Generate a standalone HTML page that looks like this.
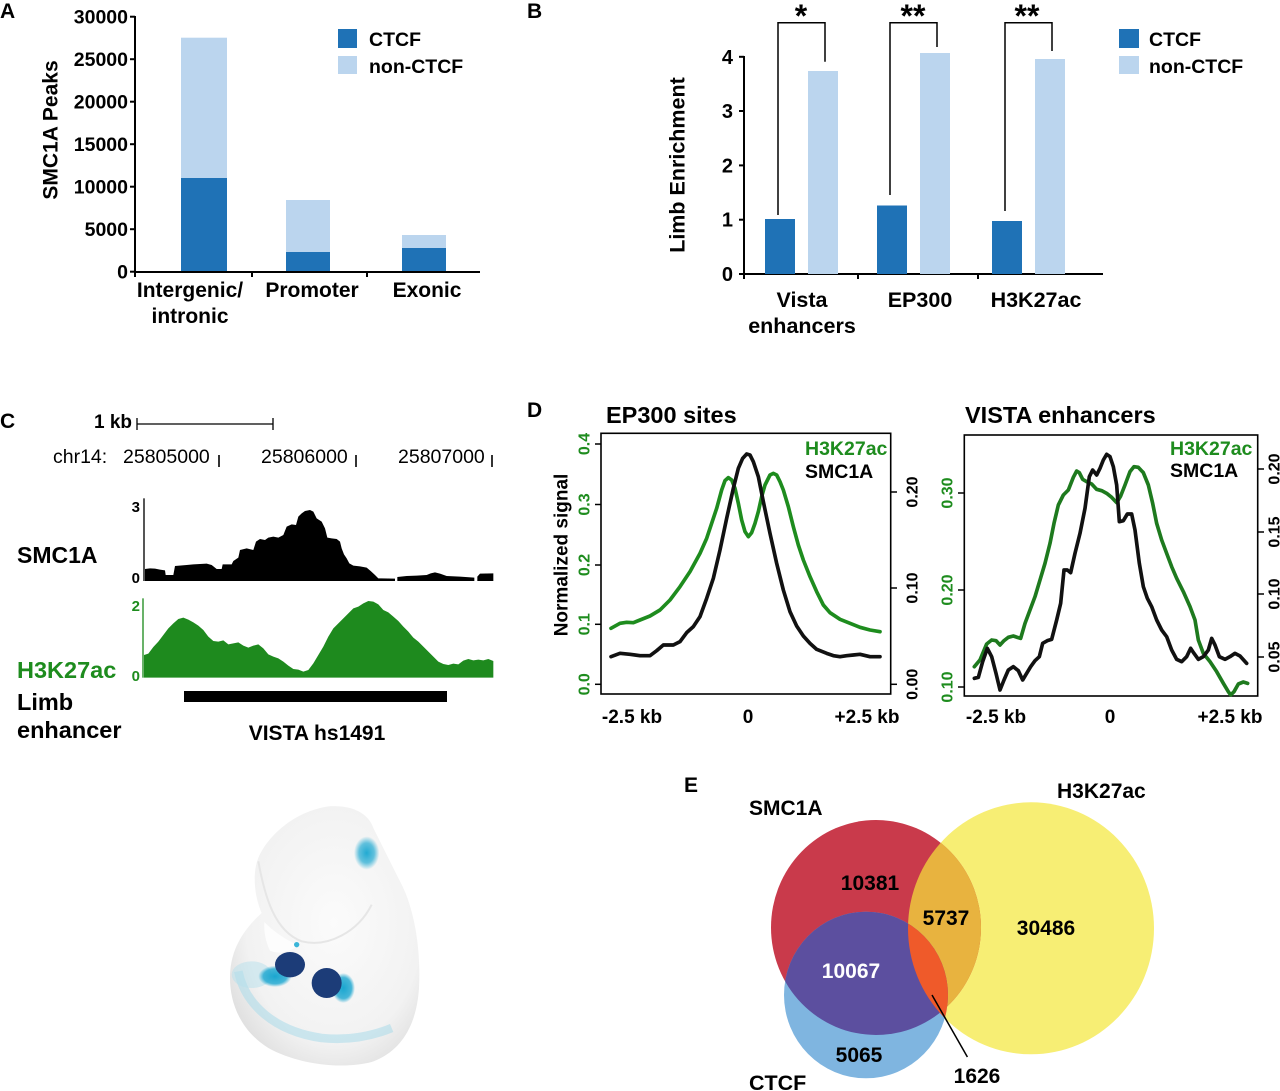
<!DOCTYPE html>
<html><head><meta charset="utf-8">
<style>
html,body{margin:0;padding:0;background:#fff;}
svg{display:block;}
text{font-family:"Liberation Sans",Arial,sans-serif;font-weight:bold;fill:#000;}
.r{font-weight:normal;}
.g{fill:#1e8c1e;}
</style></head>
<body>
<svg width="1280" height="1091" viewBox="0 0 1280 1091" xmlns="http://www.w3.org/2000/svg">
<defs>
  <clipPath id="cR"><ellipse cx="876" cy="927.5" rx="105" ry="107.5"/></clipPath>
  <clipPath id="cY"><ellipse cx="1031" cy="928.3" rx="123" ry="126"/></clipPath>
  <radialGradient id="emb" cx="0.55" cy="0.45" r="0.62">
    <stop offset="0" stop-color="#fbfbfb"/>
    <stop offset="0.75" stop-color="#f2f2f2"/>
    <stop offset="1" stop-color="#e0e0e0"/>
  </radialGradient>
  <radialGradient id="cy1" cx="0.5" cy="0.5" r="0.5">
    <stop offset="0" stop-color="#22aad2"/>
    <stop offset="0.6" stop-color="#22aad2" stop-opacity="0.7"/>
    <stop offset="1" stop-color="#22aad2" stop-opacity="0"/>
  </radialGradient>
  <radialGradient id="cy3" cx="0.5" cy="0.5" r="0.5">
    <stop offset="0" stop-color="#1aa6d0"/>
    <stop offset="0.7" stop-color="#1aa6d0" stop-opacity="0.8"/>
    <stop offset="1" stop-color="#1aa6d0" stop-opacity="0"/>
  </radialGradient>
</defs>

<!-- ================= PANEL A ================= -->
<text x="0" y="18" font-size="21">A</text>
<g stroke="#000" stroke-width="2" fill="none">
  <line x1="135" y1="16" x2="135" y2="273"/>
  <line x1="134" y1="272" x2="480" y2="272"/>
  <line x1="130" y1="16.7" x2="135" y2="16.7"/>
  <line x1="130" y1="59.2" x2="135" y2="59.2"/>
  <line x1="130" y1="101.7" x2="135" y2="101.7"/>
  <line x1="130" y1="144.2" x2="135" y2="144.2"/>
  <line x1="130" y1="186.7" x2="135" y2="186.7"/>
  <line x1="130" y1="229.2" x2="135" y2="229.2"/>
  <line x1="130" y1="271.7" x2="135" y2="271.7"/>
  <line x1="135" y1="272" x2="135" y2="277"/>
  <line x1="252" y1="272" x2="252" y2="277"/>
  <line x1="367" y1="272" x2="367" y2="277"/>
</g>
<g font-size="19.5" text-anchor="end">
  <text x="128" y="23.5">30000</text>
  <text x="128" y="66">25000</text>
  <text x="128" y="108.5">20000</text>
  <text x="128" y="151">15000</text>
  <text x="128" y="193.5">10000</text>
  <text x="128" y="236">5000</text>
  <text x="128" y="278.5">0</text>
</g>
<text transform="translate(50,130) rotate(-90)" text-anchor="middle" dy=".35em" font-size="21">SMC1A Peaks</text>
<rect x="181" y="37.7" width="46" height="140.3" fill="#bbd5ee"/>
<rect x="181" y="178" width="46" height="93" fill="#1f72b6"/>
<rect x="286" y="200" width="44" height="52" fill="#bbd5ee"/>
<rect x="286" y="252" width="44" height="19" fill="#1f72b6"/>
<rect x="402" y="235" width="44" height="13" fill="#bbd5ee"/>
<rect x="402" y="248" width="44" height="23" fill="#1f72b6"/>
<rect x="338" y="29" width="19" height="19" fill="#1f72b6"/>
<rect x="338" y="56" width="19" height="18" fill="#bbd5ee"/>
<text x="369" y="46" font-size="19.5">CTCF</text>
<text x="369" y="73" font-size="19.5">non-CTCF</text>
<g font-size="21" text-anchor="middle">
  <text x="190" y="297">Intergenic/</text>
  <text x="190" y="323">intronic</text>
  <text x="312" y="297">Promoter</text>
  <text x="427" y="297">Exonic</text>
</g>

<!-- ================= PANEL B ================= -->
<text x="527" y="18" font-size="21">B</text>
<g stroke="#000" stroke-width="2" fill="none">
  <line x1="744" y1="56" x2="744" y2="275"/>
  <line x1="743" y1="274" x2="1103" y2="274"/>
  <line x1="739" y1="56.8" x2="744" y2="56.8"/>
  <line x1="739" y1="111" x2="744" y2="111"/>
  <line x1="739" y1="165.4" x2="744" y2="165.4"/>
  <line x1="739" y1="219.7" x2="744" y2="219.7"/>
  <line x1="739" y1="274" x2="744" y2="274"/>
  <line x1="858" y1="274" x2="858" y2="279"/>
  <line x1="978" y1="274" x2="978" y2="279"/>
  <line x1="744" y1="274" x2="744" y2="279"/>
</g>
<g font-size="20" text-anchor="end">
  <text x="733" y="63.8">4</text>
  <text x="733" y="118">3</text>
  <text x="733" y="172.4">2</text>
  <text x="733" y="226.7">1</text>
  <text x="733" y="281">0</text>
</g>
<text transform="translate(677,165) rotate(-90)" text-anchor="middle" dy=".35em" font-size="21.5">Limb Enrichment</text>
<rect x="765" y="219" width="30" height="55" fill="#1f72b6"/>
<rect x="808" y="71" width="30" height="203" fill="#bbd5ee"/>
<rect x="877" y="205.5" width="30" height="68.5" fill="#1f72b6"/>
<rect x="920" y="53" width="30" height="221" fill="#bbd5ee"/>
<rect x="992" y="221" width="30" height="53" fill="#1f72b6"/>
<rect x="1035" y="59" width="30" height="215" fill="#bbd5ee"/>
<g stroke="#000" stroke-width="1.5" fill="none">
  <path d="M778,215 V22.7 H825 V61.7"/>
  <path d="M890,195 V22.7 H937 V47"/>
  <path d="M1005,211 V22.7 H1052 V51"/>
</g>
<g font-size="32" text-anchor="middle">
  <text x="801" y="27">*</text>
  <text x="913" y="27">**</text>
  <text x="1027" y="27">**</text>
</g>
<rect x="1119" y="29" width="20" height="19" fill="#1f72b6"/>
<rect x="1119" y="56" width="20" height="18" fill="#bbd5ee"/>
<text x="1149" y="46" font-size="19.5">CTCF</text>
<text x="1149" y="73" font-size="19.5">non-CTCF</text>
<g font-size="21.5" text-anchor="middle">
  <text x="802" y="307">Vista</text>
  <text x="802" y="333">enhancers</text>
  <text x="920" y="307">EP300</text>
  <text x="1036" y="307">H3K27ac</text>
</g>

<!-- ================= PANEL C ================= -->
<text x="0" y="428" font-size="21">C</text>
<text x="132" y="428" font-size="19" text-anchor="end">1 kb</text>
<g stroke="#000" stroke-width="1.3">
  <line x1="137" y1="424" x2="273" y2="424"/>
  <line x1="137" y1="418" x2="137" y2="430"/>
  <line x1="273" y1="418" x2="273" y2="430"/>
  <line x1="219" y1="455" x2="219" y2="467" stroke-width="1.6"/>
  <line x1="356" y1="455" x2="356" y2="467" stroke-width="1.6"/>
  <line x1="492" y1="455" x2="492" y2="467" stroke-width="1.6"/>
</g>
<g font-size="19.5">
  <text class="r" x="53" y="463">chr14:</text>
  <text class="r" x="123" y="463">25805000</text>
  <text class="r" x="261" y="463">25806000</text>
  <text class="r" x="398" y="463">25807000</text>
</g>
<g transform="translate(140,495) scale(0.333333)">
  <line x1="12" y1="10" x2="12" y2="258" stroke="#000" stroke-width="4"/>
  <path fill="#000" d="M15,258 L15,222 L30,220 L45,221 L60,224 L75,226 L77,240 L100,240 L105,213 L140,210 L160,208 L200,206 L215,210 L230,222 L245,222 L248,208 L275,208 L280,198 L295,188 L300,165 L320,160 L340,165 L348,140 L360,132 L375,135 L385,128 L400,125 L415,128 L430,120 L440,95 L455,88 L468,90 L475,65 L485,55 L495,48 L510,45 L520,50 L530,70 L545,80 L555,100 L562,128 L575,130 L590,132 L600,140 L605,160 L612,178 L620,190 L628,205 L640,212 L660,214 L680,218 L692,228 L705,240 L715,250 L765,251 L765,258 Z M772,258 L772,246 L800,243 L830,242 L860,240 L872,235 L885,232 L900,236 L920,243 L960,245 L1003,248 L1003,258 Z M1012,258 L1012,245 L1020,236 L1060,235 L1060,258 Z"/>
  <line x1="9" y1="310" x2="9" y2="548" stroke="#1e8c1e" stroke-width="4"/>
  <path fill="#1e8a1e" d="M12,548 L12,480 L25,476 L40,456 L55,440 L70,420 L85,400 L100,385 L115,372 L130,368 L145,374 L160,382 L175,392 L190,405 L205,425 L220,438 L235,440 L250,436 L265,448 L280,445 L295,442 L310,452 L325,458 L340,452 L355,448 L370,460 L385,478 L400,485 L415,490 L430,500 L445,512 L460,522 L475,524 L490,530 L505,525 L520,505 L535,480 L550,455 L565,425 L580,400 L595,385 L610,370 L625,355 L640,340 L655,335 L670,325 L685,318 L700,320 L715,328 L730,345 L745,352 L760,365 L775,378 L790,395 L805,410 L820,428 L835,440 L850,455 L865,470 L880,485 L895,500 L910,507 L925,510 L940,506 L955,508 L970,497 L985,492 L1000,496 L1015,494 L1030,496 L1045,492 L1060,498 L1060,548 Z"/>
</g>
<g font-size="15" text-anchor="end">
  <text x="140" y="512">3</text>
  <text x="140" y="583">0</text>
  <text x="140" y="611" class="g">2</text>
  <text x="140" y="681" class="g">0</text>
</g>
<text x="17" y="563" font-size="23">SMC1A</text>
<text x="17" y="678" font-size="23.5" class="g">H3K27ac</text>
<text x="17" y="710" font-size="23.5">Limb</text>
<text x="17" y="738" font-size="23.5">enhancer</text>
<rect x="184" y="691" width="263" height="11" fill="#000"/>
<text x="317" y="740" font-size="21" text-anchor="middle">VISTA hs1491</text>

<!-- ================= EMBRYO ================= -->
<g transform="translate(215,798) scale(0.333333)">
  <path fill="url(#emb)" d="M140,345 C120,300 110,230 130,180 C160,110 240,40 340,25 C410,20 460,45 475,90 C500,140 530,200 560,260 C600,340 618,460 612,570 C605,680 560,760 470,792 C380,815 250,800 160,750 C80,700 45,620 45,540 C45,460 80,400 140,345 Z"/>
  <path fill="none" stroke="#e6e6e6" stroke-width="6" d="M130,190 C150,300 180,400 260,430 C340,450 430,400 470,320"/>
  <path fill="#fdfdfd" d="M148,372 C170,395 205,422 250,442 C225,462 190,470 165,458 C152,432 146,400 148,372 Z"/>
  <path d="M70,520 C90,620 180,700 320,720 C400,728 470,715 530,690" stroke="#a9dbe9" stroke-width="26" fill="none" opacity="0.55"/>
  <ellipse cx="110" cy="530" rx="60" ry="40" fill="#b5e0ec" opacity="0.5"/>
  <ellipse cx="455" cy="165" rx="38" ry="50" fill="url(#cy1)"/>
  <ellipse cx="180" cy="535" rx="50" ry="32" fill="url(#cy3)"/>
  <ellipse cx="385" cy="570" rx="35" ry="45" fill="url(#cy3)"/>
  <ellipse cx="225" cy="500" rx="45" ry="38" fill="#1c3c78"/>
  <ellipse cx="335" cy="555" rx="45" ry="45" fill="#1c3c78"/>
  <circle cx="245" cy="440" r="8" fill="#3ab5d8"/>
</g>

<!-- ================= PANEL D left ================= -->
<text x="527" y="417" font-size="21">D</text>
<text x="606" y="423" font-size="23.5">EP300 sites</text>
<rect x="601" y="433.3" width="289.7" height="260.7" fill="none" stroke="#000" stroke-width="1.6"/>
<g stroke="#000" stroke-width="1.5">
  <line x1="595" y1="444" x2="601" y2="444"/>
  <line x1="595" y1="504.5" x2="601" y2="504.5"/>
  <line x1="595" y1="565" x2="601" y2="565"/>
  <line x1="595" y1="624.3" x2="601" y2="624.3"/>
  <line x1="595" y1="684.3" x2="601" y2="684.3"/>
  <line x1="891" y1="492" x2="897" y2="492"/>
  <line x1="891" y1="588" x2="897" y2="588"/>
  <line x1="891" y1="684.3" x2="897" y2="684.3"/>
</g>
<g font-size="16" text-anchor="middle">
  <text class="g" transform="translate(584,444) rotate(-90)" dy=".35em">0.4</text>
  <text class="g" transform="translate(584,504.5) rotate(-90)" dy=".35em">0.3</text>
  <text class="g" transform="translate(584,565) rotate(-90)" dy=".35em">0.2</text>
  <text class="g" transform="translate(584,624.3) rotate(-90)" dy=".35em">0.1</text>
  <text class="g" transform="translate(584,684.3) rotate(-90)" dy=".35em">0.0</text>
  <text transform="translate(912,492) rotate(-90)" dy=".35em">0.20</text>
  <text transform="translate(912,588) rotate(-90)" dy=".35em">0.10</text>
  <text transform="translate(912,684.3) rotate(-90)" dy=".35em">0.00</text>
</g>
<text transform="translate(561,555) rotate(-90)" text-anchor="middle" dy=".35em" font-size="19">Normalized signal</text>
<g font-size="19" text-anchor="middle">
  <text x="632" y="723">-2.5 kb</text>
  <text x="748" y="723">0</text>
  <text x="867" y="723">+2.5 kb</text>
</g>
<text x="805" y="455" font-size="19.5" class="g">H3K27ac</text>
<text x="805" y="478" font-size="19.5">SMC1A</text>
<g transform="translate(540,390) scale(0.333333)" fill="none" stroke-width="11" stroke-linejoin="round" stroke-linecap="round">
  <polyline stroke="#1e8c1e" points="213,715 240,700 260,697 280,698 300,690 330,678 360,660 390,630 420,590 450,545 480,490 500,445 515,400 530,355 545,300 555,272 565,263 575,270 585,295 595,340 605,390 615,425 625,440 635,428 645,400 655,365 665,320 675,285 690,255 700,250 710,255 720,275 730,300 745,350 760,410 775,465 790,510 810,560 830,605 850,645 870,668 900,688 930,700 960,712 990,720 1020,725"/>
  <polyline stroke="#111" points="213,800 240,790 270,793 300,797 330,797 350,782 370,765 400,765 420,755 440,728 460,710 480,680 500,625 520,565 540,480 560,385 580,295 595,235 608,205 620,192 630,195 640,215 655,260 670,335 690,430 710,520 730,600 750,665 770,708 790,738 810,760 830,778 860,790 880,797 900,800 920,797 940,795 960,793 990,800 1020,800"/>
</g>

<!-- ================= PANEL D right ================= -->
<text x="965" y="423" font-size="23.5">VISTA enhancers</text>
<rect x="964.3" y="435" width="293.4" height="261" fill="none" stroke="#000" stroke-width="1.6"/>
<g stroke="#000" stroke-width="1.5">
  <line x1="958" y1="493" x2="964" y2="493"/>
  <line x1="958" y1="590" x2="964" y2="590"/>
  <line x1="958" y1="687" x2="964" y2="687"/>
  <line x1="1258" y1="469" x2="1264" y2="469"/>
  <line x1="1258" y1="532" x2="1264" y2="532"/>
  <line x1="1258" y1="594" x2="1264" y2="594"/>
  <line x1="1258" y1="657" x2="1264" y2="657"/>
</g>
<g font-size="16" text-anchor="middle">
  <text class="g" transform="translate(947,493) rotate(-90)" dy=".35em">0.30</text>
  <text class="g" transform="translate(947,590) rotate(-90)" dy=".35em">0.20</text>
  <text class="g" transform="translate(947,687) rotate(-90)" dy=".35em">0.10</text>
  <text transform="translate(1274,469) rotate(-90)" dy=".35em">0.20</text>
  <text transform="translate(1274,532) rotate(-90)" dy=".35em">0.15</text>
  <text transform="translate(1274,594) rotate(-90)" dy=".35em">0.10</text>
  <text transform="translate(1274,657) rotate(-90)" dy=".35em">0.05</text>
</g>
<g font-size="19" text-anchor="middle">
  <text x="996" y="723">-2.5 kb</text>
  <text x="1110" y="723">0</text>
  <text x="1230" y="723">+2.5 kb</text>
</g>
<text x="1170" y="455" font-size="19.5" class="g">H3K27ac</text>
<text x="1170" y="477" font-size="19.5">SMC1A</text>
<g transform="translate(910,390) scale(0.333333)" fill="none" stroke-width="11" stroke-linejoin="round" stroke-linecap="round">
  <polyline stroke="#1e7a1e" points="193,830 210,810 230,762 245,750 258,752 270,765 282,752 295,742 310,738 322,742 332,745 345,700 360,660 375,620 390,570 405,520 420,460 432,400 445,345 460,315 475,300 490,262 500,243 508,248 518,268 530,275 545,282 560,298 575,302 590,310 605,322 620,338 632,318 645,285 660,245 672,230 685,232 700,248 715,285 728,340 740,400 755,450 770,490 785,530 800,565 820,605 840,650 855,690 865,750 880,790 900,815 920,845 940,880 955,905 962,915 972,905 985,882 1000,876 1013,880"/>
  <polyline stroke="#111" points="193,865 205,862 218,815 232,775 245,800 258,850 270,900 282,870 295,840 310,830 325,842 338,870 350,850 362,830 375,812 388,800 398,760 412,752 425,748 440,690 452,640 462,540 472,540 482,548 495,490 510,430 525,355 538,260 548,240 560,255 570,235 580,210 590,193 600,200 610,230 620,285 628,395 640,392 652,372 665,372 675,420 688,520 700,590 712,625 725,650 740,690 755,720 770,740 785,780 800,808 815,815 830,800 842,775 852,790 865,808 880,800 895,780 905,745 915,765 928,800 945,808 960,800 975,790 990,798 1010,820"/>
</g>

<!-- ================= PANEL E ================= -->
<text x="684" y="792" font-size="21">E</text>
<ellipse cx="1031" cy="928.3" rx="123" ry="126" fill="#f7ee74"/>
<ellipse cx="876" cy="927.5" rx="105" ry="107.5" fill="#c93a4b"/>
<ellipse cx="866" cy="995" rx="82" ry="83.3" fill="#7fb5e0"/>
<g clip-path="url(#cR)"><ellipse cx="1031" cy="928.3" rx="123" ry="126" fill="#e8b33f"/></g>
<g clip-path="url(#cR)"><ellipse cx="866" cy="995" rx="82" ry="83.3" fill="#5c4f9f"/></g>
<g clip-path="url(#cY)"><ellipse cx="866" cy="995" rx="82" ry="83.3" fill="#ef5a2a"/></g>
<line x1="932" y1="995" x2="967.4" y2="1057" stroke="#000" stroke-width="1.5"/>
<text x="749" y="815" font-size="21">SMC1A</text>
<text x="1057" y="798" font-size="21">H3K27ac</text>
<text x="749" y="1090" font-size="21.5">CTCF</text>
<g font-size="21" text-anchor="middle">
  <text x="870" y="890">10381</text>
  <text x="946" y="925">5737</text>
  <text x="1046" y="935">30486</text>
  <text x="851" y="978" style="fill:#fff">10067</text>
  <text x="859" y="1062">5065</text>
  <text x="977" y="1083">1626</text>
</g>
</svg>
</body></html>
